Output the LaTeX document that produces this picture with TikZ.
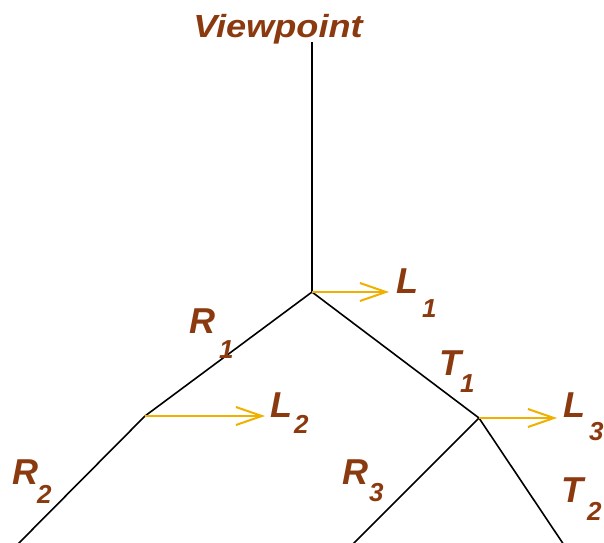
\documentclass[tikz,border=0pt]{standalone}
\usepackage{fontspec}
\setmainfont{Liberation Sans}
\usetikzlibrary{arrows.meta}
\definecolor{lbl}{RGB}{139,58,15}
\definecolor{arr}{RGB}{240,176,0}
\tikzset{
  edge/.style={draw=black, line width=1.6pt},
  lightarrow/.style={draw=arr, line width=2pt, -{Straight Barb[length=26pt,width=18pt,line width=2pt]}},
  sym/.style={text=lbl, font=\fontsize{36}{36}\selectfont\bfseries\itshape, inner sep=0pt, anchor=base west},
  subs/.style={text=lbl, font=\fontsize{26}{26}\selectfont\bfseries\itshape, inner sep=0pt, anchor=base west},
}
\begin{document}
\begin{tikzpicture}[x=1pt,y=-1pt]
\useasboundingbox (0,0) rectangle (604,542);
\clip (0,0) rectangle (604,542);
% points
\coordinate (top) at (312,42);
\coordinate (A) at (312,292);
\coordinate (B) at (145,416);
\coordinate (C) at (479,418);
\coordinate (e1) at (14,548);
\coordinate (e2) at (349,548);
\coordinate (e3) at (566,548);
\coordinate (t1) at (389,292);
\coordinate (t2) at (265,416);
\coordinate (t3) at (557,418);
% edges
\draw[edge] (top) -- (A);
\draw[edge] (A) -- (B);
\draw[edge] (A) -- (C);
\draw[edge] (B) -- (e1);
\draw[edge] (C) -- (e2);
\draw[edge] (C) -- (e3);
% light arrows
\draw[lightarrow] (A) -- (t1);
\draw[lightarrow] (B) -- (t2);
\draw[lightarrow] (C) -- (t3);
% labels
\node[text=lbl, font=\fontsize{32}{32}\selectfont\bfseries\itshape, inner sep=0pt, anchor=base] (vp) at (278,37) {\scalebox{1.13}[1]{Viewpoint}};
\node[sym] (l1) at (396,293) {L};
\node[subs] (l1s) at (422,317) {1};
\node[sym] (r1) at (189,333) {R};
\node[subs] (r1s) at (219,358) {1};
\node[sym] (tt1) at (439,375) {T};
\node[subs] (tt1s) at (460,392) {1};
\node[sym] (l2) at (270,417) {L};
\node[subs] (l2s) at (294,433) {2};
\node[sym] (l3) at (563,417) {L};
\node[subs] (l3s) at (589,440) {3};
\node[sym] (r2) at (12,484) {R};
\node[subs] (r2s) at (37,503) {2};
\node[sym] (r3) at (342,484) {R};
\node[subs] (r3s) at (369,501) {3};
\node[sym] (tt2) at (561,502) {T};
\node[subs] (tt2s) at (587,520) {2};
\end{tikzpicture}
\end{document}
